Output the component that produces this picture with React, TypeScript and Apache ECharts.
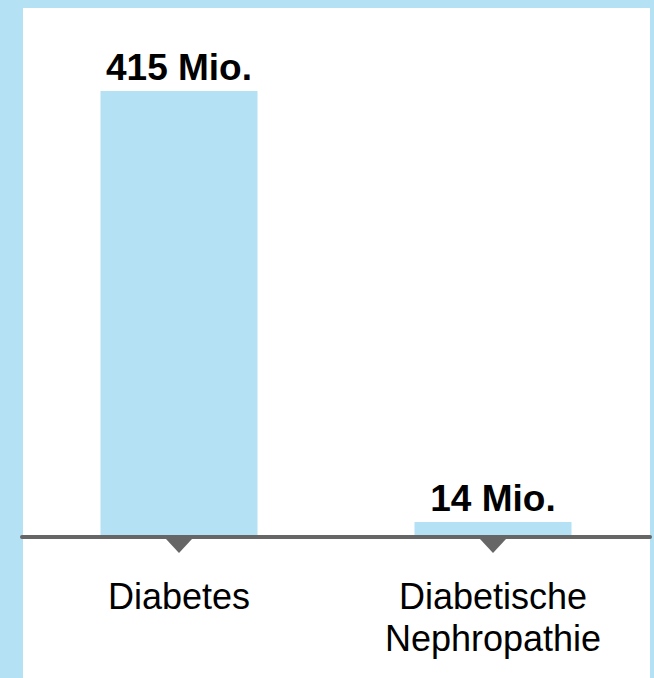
import React, { useEffect, useRef } from "react";
import * as echarts from "echarts";

const categories = ["Diabetes", "Diabetische\nNephropathie"];
const values = [415, 14];
const valueLabels = ["415 Mio.", "14 Mio."];

const BLUE = "#b4e1f4";
const GRAY = "#666666";
const FONT = "Arial, 'Liberation Sans', Helvetica, sans-serif";

export default function App() {
  const ref = useRef<HTMLDivElement>(null);
  useEffect(() => {
    if (!ref.current) return;
    const chart = echarts.init(ref.current, null, { renderer: "svg" });
    chart.setOption({
      animation: false,
      backgroundColor: BLUE,
      graphic: [
        {
          type: "rect",
          z: -10,
          silent: true,
          shape: { x: 23, y: 8, width: 627, height: 670 },
          style: { fill: "#ffffff" },
        },
      ],
      grid: { left: 22, right: 4, top: 91, bottom: 141, containLabel: false },
      xAxis: {
        type: "category",
        data: categories,
        axisLine: { show: true, lineStyle: { color: GRAY, width: 4, opacity: 1 } },
        axisTick: { show: false },
        axisLabel: {
          color: "#000",
          fontFamily: FONT,
          fontSize: 36,
          lineHeight: 42,
          margin: 38,
          interval: 0,
        },
        z: 5,
      },
      yAxis: {
        type: "value",
        min: 0,
        max: 415,
        show: false,
        splitLine: { show: false },
      },
      series: [
        {
          type: "bar",
          data: values,
          barWidth: "50%",
          itemStyle: { color: BLUE },
          label: {
            show: true,
            position: "top",
            distance: 5,
            color: "#000",
            fontFamily: FONT,
            fontSize: 37,
            fontWeight: "bold",
            lineHeight: 37,
            formatter: (p: any) => valueLabels[p.dataIndex],
          },
          z: 2,
        },
        {
          type: "scatter",
          data: values.map(() => 0),
          symbol: "path://M0,0 L26,0 L13,14 Z",
          symbolSize: [26, 14],
          symbolOffset: [0, 9],
          itemStyle: { color: GRAY, opacity: 1 },
          clip: false,
          silent: true,
          z: 6,
        },
      ],
    });
    return () => chart.dispose();
  }, []);
  return (
    <div
      ref={ref}
      style={{ position: "absolute", left: 0, top: 0, width: 654, height: 678 }}
    />
  );
}
